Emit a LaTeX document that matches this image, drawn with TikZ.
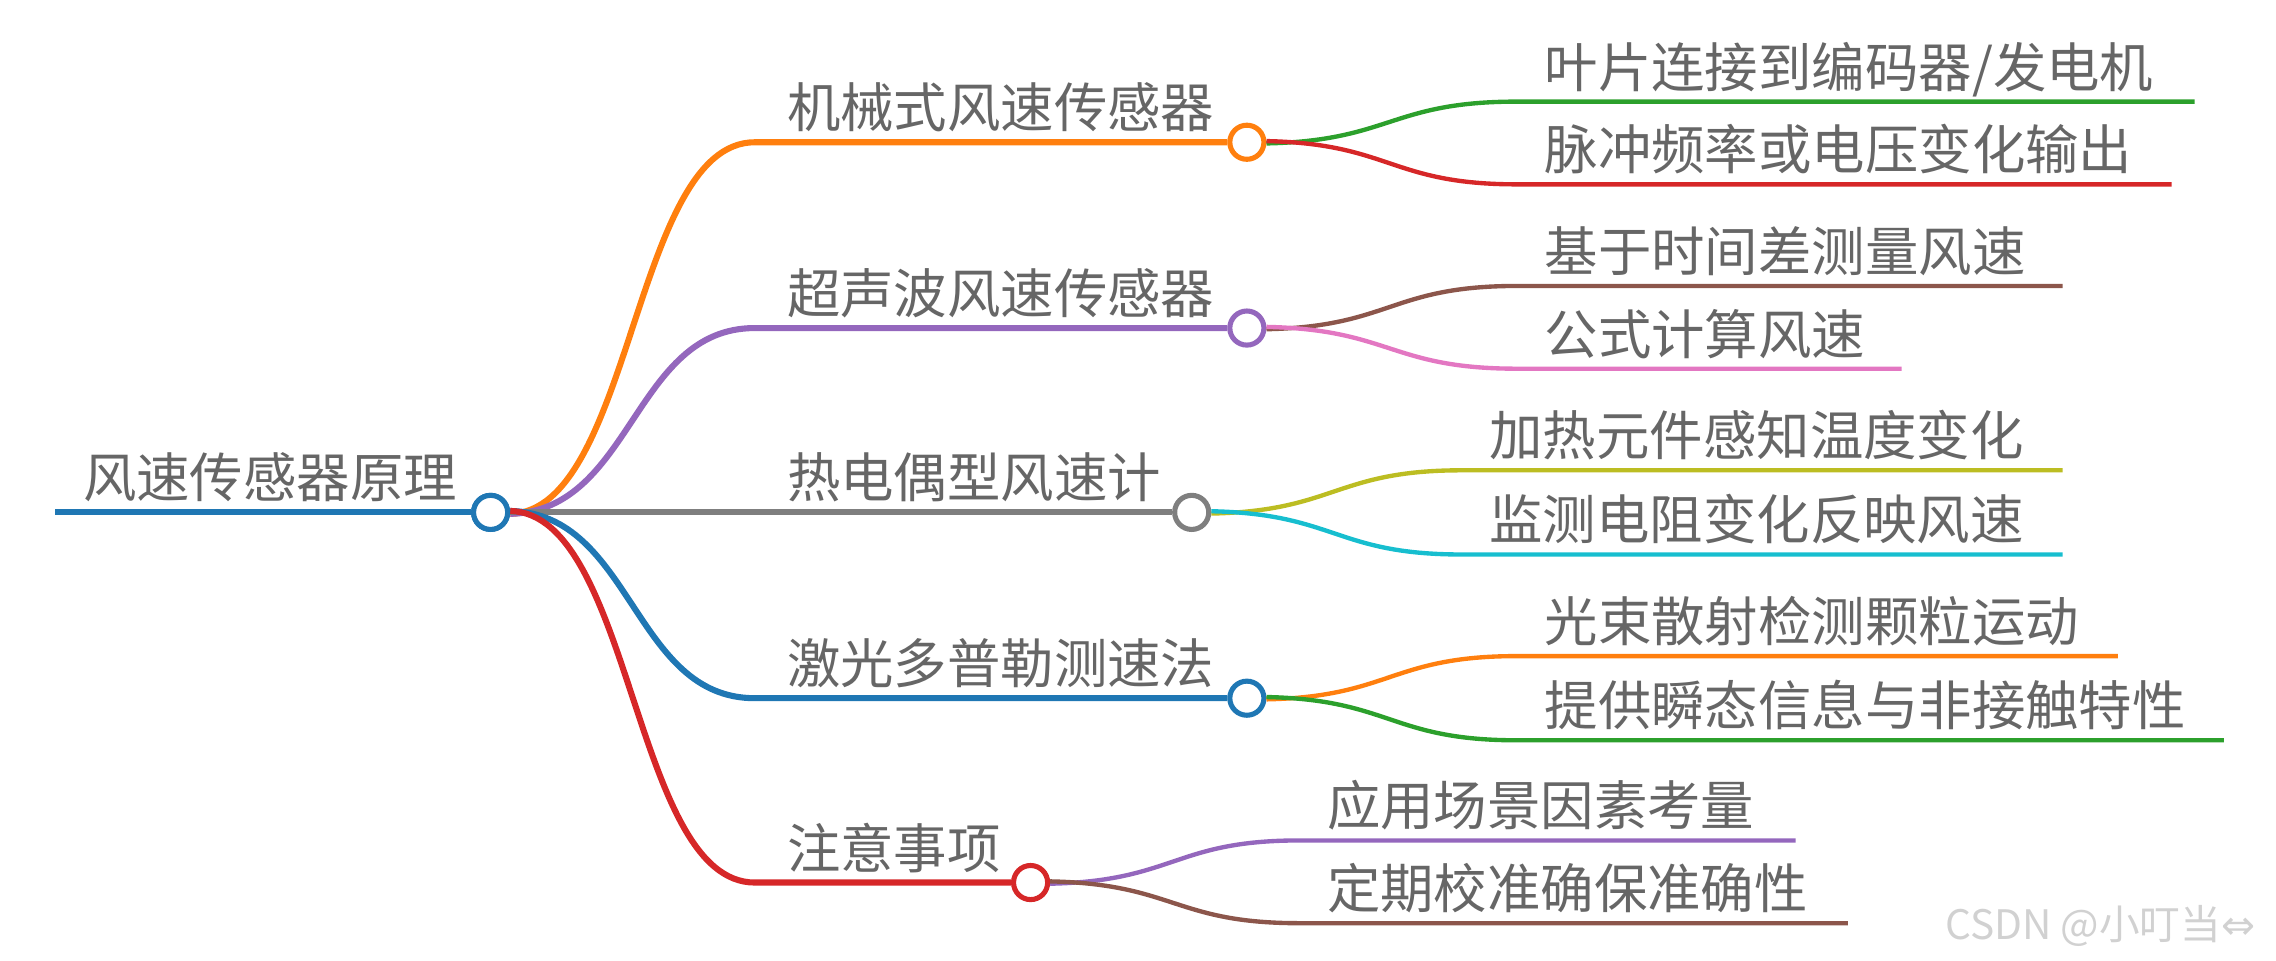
\documentclass[tikz,border=0pt]{standalone}
\usepackage{fontspec}
\newfontfamily\cjk{Noto Sans CJK SC}
\newfontfamily\dejavu{DejaVu Sans}
\definecolor{cOrange}{HTML}{FF7F0E}
\definecolor{cPurple}{HTML}{9467BD}
\definecolor{cGray}{HTML}{7F7F7F}
\definecolor{cBlue}{HTML}{1F77B4}
\definecolor{cRed}{HTML}{D62728}
\definecolor{cGreen}{HTML}{2CA02C}
\definecolor{cBrown}{HTML}{8C564B}
\definecolor{cPink}{HTML}{E377C2}
\definecolor{cOlive}{HTML}{BCBD22}
\definecolor{cCyan}{HTML}{17BECF}
\definecolor{txtgray}{HTML}{666666}
\begin{document}
\begin{tikzpicture}[x=1pt,y=-1pt,
  dot/.style={circle, draw=#1, line width=3.5pt, fill=white, minimum size=23.5pt, inner sep=0pt},
  lbl/.style={anchor=base west, inner sep=0pt, text=txtgray, font=\cjk\fontsize{36.8}{40}\selectfont},
  lone/.style={line width=4.2pt, draw=#1},
  ltwo/.style={line width=3pt, draw=#1}
]
\useasboundingbox (0,0) rectangle (1568,661.4);

% root
\coordinate (r0) at (38,353);
\node[dot=cBlue] (root) at (338,353) {};
\node[lbl] (troot) at (57,343) {风速传感器原理};
\draw[lone=cBlue] (r0) -- (root.west);

% level 1 nodes
\node[dot=cOrange] (m1) at (859,98) {};
\node[dot=cPurple] (m2) at (859,226) {};
\node[dot=cGray]   (m3) at (821,353) {};
\node[dot=cBlue]   (m4) at (859,481) {};
\node[dot=cRed]    (m5) at (710,608) {};
\coordinate (s1) at (520,98);
\coordinate (s2) at (520,226);
\coordinate (s4) at (520,481);
\coordinate (s5) at (520,608);
\node[lbl] (t1) at (542,88) {机械式风速传感器};
\node[lbl] (t2) at (542,216) {超声波风速传感器};
\node[lbl] (t3) at (542,343) {热电偶型风速计};
\node[lbl] (t4) at (542,471) {激光多普勒测速法};
\node[lbl] (t5) at (542,598) {注意事项};

\draw[lone=cOrange] ([yshift=-1pt]root.east) .. controls (436,352) and (436,98) .. (s1) -- (m1.west);
\draw[lone=cPurple] ([yshift=-1pt]root.east) .. controls (436,352) and (436,226) .. (s2) -- (m2.west);
\draw[lone=cGray] (root.east) -- (m3.west);
\draw[lone=cBlue] ([yshift=1pt]root.east) .. controls (436,354) and (436,481) .. (s4) -- (m4.west);
\draw[lone=cRed] ([yshift=1pt]root.east) .. controls (436,354) and (436,608) .. (s5) -- (m5.west);
\node[dot=cBlue] at (root) {};

% level 2
\coordinate (a0) at (1045,70);  \coordinate (a1) at (1512,70);
\coordinate (b0) at (1045,127); \coordinate (b1) at (1496,127);
\coordinate (c0) at (1045,197); \coordinate (c1) at (1421,197);
\coordinate (d0) at (1045,254); \coordinate (d1) at (1310,254);
\coordinate (e0) at (1007,324); \coordinate (e1) at (1421,324);
\coordinate (f0) at (1007,382); \coordinate (f1) at (1421,382);
\coordinate (g0) at (1045,452); \coordinate (g1) at (1459,452);
\coordinate (h0) at (1045,510); \coordinate (h1) at (1532,510);
\coordinate (i0) at (895,579);  \coordinate (i1) at (1237,579);
\coordinate (j0) at (895,636);  \coordinate (j1) at (1273,636);

\node[lbl] (ta) at (1064,60)  {叶片连接到编码器/发电机};
\node[lbl] (tb) at (1064,117) {脉冲频率或电压变化输出};
\node[lbl] (tc) at (1064,187) {基于时间差测量风速};
\node[lbl] (td) at (1064,244) {公式计算风速};
\node[lbl] (te) at (1026,314) {加热元件感知温度变化};
\node[lbl] (tf) at (1026,372) {监测电阻变化反映风速};
\node[lbl] (tg) at (1064,442) {光束散射检测颗粒运动};
\node[lbl] (th) at (1064,500) {提供瞬态信息与非接触特性};
\node[lbl] (ti) at (914,569)  {应用场景因素考量};
\node[lbl] (tj) at (914,626)  {定期校准确保准确性};

\draw[ltwo=cGreen] ([yshift=-0.8pt]m1.east) .. controls (958,97) and (958,70) .. (a0) -- (a1);
\draw[ltwo=cRed]   ([yshift=0.8pt]m1.east) .. controls (958,99) and (958,127) .. (b0) -- (b1);
\draw[ltwo=cBrown] ([yshift=-0.8pt]m2.east) .. controls (958,225) and (958,197) .. (c0) -- (c1);
\draw[ltwo=cPink]  ([yshift=0.8pt]m2.east) .. controls (958,227) and (958,254) .. (d0) -- (d1);
\draw[ltwo=cOlive] ([yshift=-0.8pt]m3.east) .. controls (920,352) and (920,324) .. (e0) -- (e1);
\draw[ltwo=cCyan]  ([yshift=0.8pt]m3.east) .. controls (920,354) and (920,382) .. (f0) -- (f1);
\draw[ltwo=cOrange]([yshift=-0.8pt]m4.east) .. controls (958,480) and (958,452) .. (g0) -- (g1);
\draw[ltwo=cGreen] ([yshift=0.8pt]m4.east) .. controls (958,482) and (958,510) .. (h0) -- (h1);
\draw[ltwo=cPurple]([yshift=-0.8pt]m5.east) .. controls (809,607) and (809,579) .. (i0) -- (i1);
\draw[ltwo=cBrown] ([yshift=0.8pt]m5.east) .. controls (809,609) and (809,636) .. (j0) -- (j1);

% watermark
\node[anchor=base west, inner sep=0pt, text=black!18, font=\cjk\fontsize{28}{32}\selectfont] (wm) at (1340,647) {CSDN @小叮当{\dejavu ⇔}};
\end{tikzpicture}
\end{document}
